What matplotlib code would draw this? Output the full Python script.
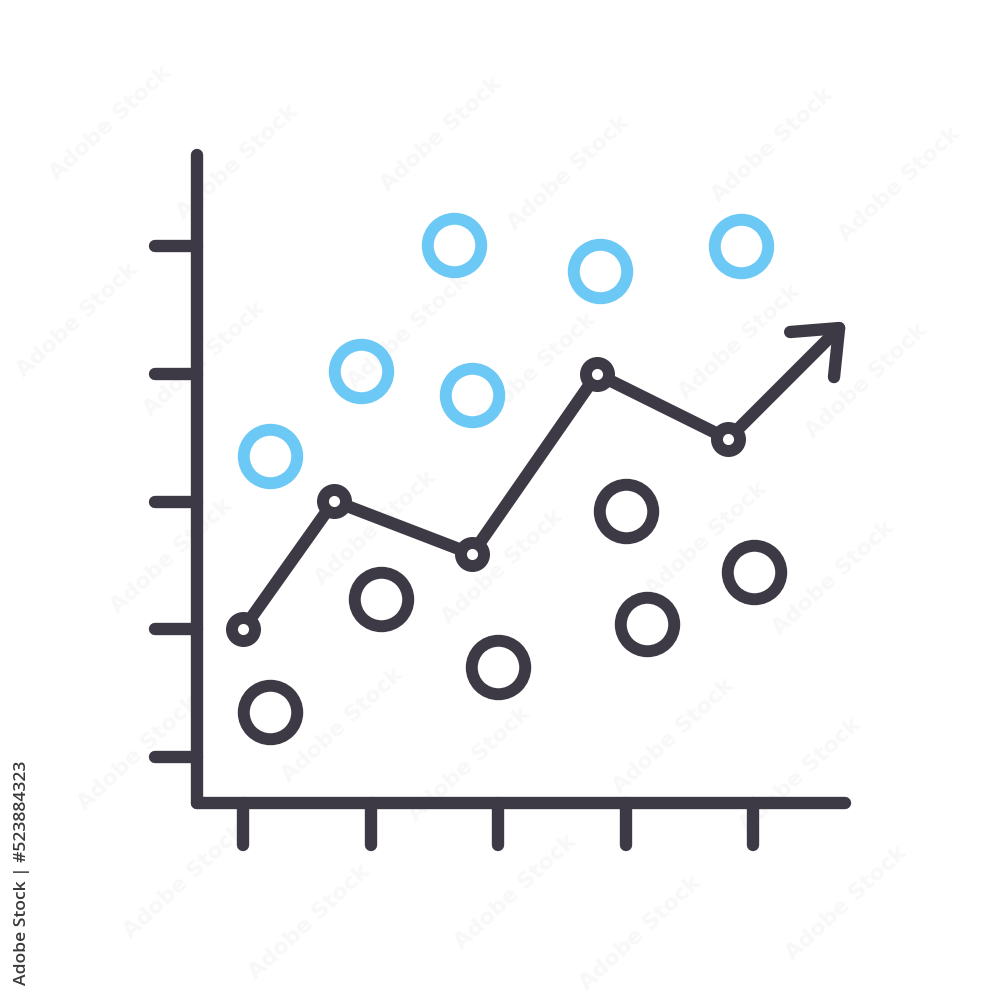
import matplotlib
matplotlib.use('Agg')
import matplotlib.pyplot as plt
from matplotlib.markers import MarkerStyle, TICKLEFT, TICKDOWN

dark = '#3d3a46'
blue = '#6cc8f5'

# values in tick units, ticks are 1..5 on both axes
xticks = [1, 2, 3, 4, 5]
yticks = [1, 2, 3, 4, 5]

line_x = [1.0, 1.714, 2.796, 3.776, 4.804]
line_y = [2.0, 3.004, 2.589, 3.998, 3.489]
arrow_x = [5.291, 5.675, 5.635]
arrow_y = [4.327, 4.358, 3.974]

blue_x = [1.21, 1.925, 2.796, 2.655, 3.80, 4.906]
blue_y = [3.356, 4.02, 3.834, 5.008, 4.804, 5.0]

dark_x = [1.21, 2.08, 3.0, 4.004, 4.169, 5.008]
dark_y = [1.352, 2.237, 1.705, 2.926, 2.04, 2.448]

# watermark anchors, in image pixels
mark_px = [(110, 123), (237, 162), (283, 290)]

fig = plt.figure(figsize=(10, 10), dpi=100)
ax = fig.add_axes([0, 0, 1, 1])
ax.set_xlim(-0.906, 6.937)
ax.set_ylim(-0.902, 6.926)

lw = 8.9

# faint watermark
placed = []
for px, py in mark_px:
    for i in range(-3, 4):
        for j in range(-2, 6):
            wx = px + i * 331 + j * -33
            wy = py + i * 11 + j * 197
            if not (60 < wx < 940 and 60 < wy < 940):
                continue
            if any((wx - a) ** 2 + (wy - b) ** 2 < 125 ** 2 for a, b in placed):
                continue
            placed.append((wx, wy))
            ax.text(wx / 1000, 1 - wy / 1000, 'Adobe Stock', rotation=43,
                    transform=ax.transAxes, ha='center', va='center',
                    fontsize=16, color='#f8f8f8', fontweight='bold', zorder=0)

# axes
for s in ['top', 'right']:
    ax.spines[s].set_visible(False)
for s in ['left', 'bottom']:
    ax.spines[s].set_linewidth(lw)
    ax.spines[s].set_color(dark)
    ax.spines[s].set_capstyle('round')
ax.spines['left'].set_position(('data', 0.64))
ax.spines['bottom'].set_position(('data', 0.64))
ax.spines['left'].set_bounds(0.64, 5.71)
ax.spines['bottom'].set_bounds(0.64, 5.72)

ax.set_xticks(xticks)
ax.set_yticks(yticks)
ax.set_xticklabels([])
ax.set_yticklabels([])
ax.tick_params(length=30, width=lw, color=dark)
for t in ax.yaxis.get_major_ticks():
    t.tick1line.set_marker(MarkerStyle(TICKLEFT, capstyle='round'))
for t in ax.xaxis.get_major_ticks():
    t.tick1line.set_marker(MarkerStyle(TICKDOWN, capstyle='round'))

# scatter rings
ax.plot(blue_x, blue_y, ls='none', marker='o', ms=38.5, mfc='none', mec=blue, mew=8.6)
ax.plot(dark_x, dark_y, ls='none', marker='o', ms=38.5, mfc='none', mec=dark, mew=8.6)

# trend line with arrow
ax.plot(line_x + [arrow_x[1]], line_y + [arrow_y[1]], color=dark, lw=lw,
        solid_capstyle='round', solid_joinstyle='round')
ax.plot(arrow_x, arrow_y, color=dark, lw=lw,
        solid_capstyle='round', solid_joinstyle='round')
ax.plot(line_x, line_y, ls='none', marker='o', ms=16.6, mfc='white', mec=dark, mew=8.6)

ax.text(22 / 1000, 1 - 873 / 1000, 'Adobe Stock | #523884323', rotation=90,
        transform=ax.transAxes, ha='center', va='center', fontsize=12.6,
        color='#3a3a3a', family='Open Sans', fontweight='semibold')

fig.savefig('out.png', dpi=100)
